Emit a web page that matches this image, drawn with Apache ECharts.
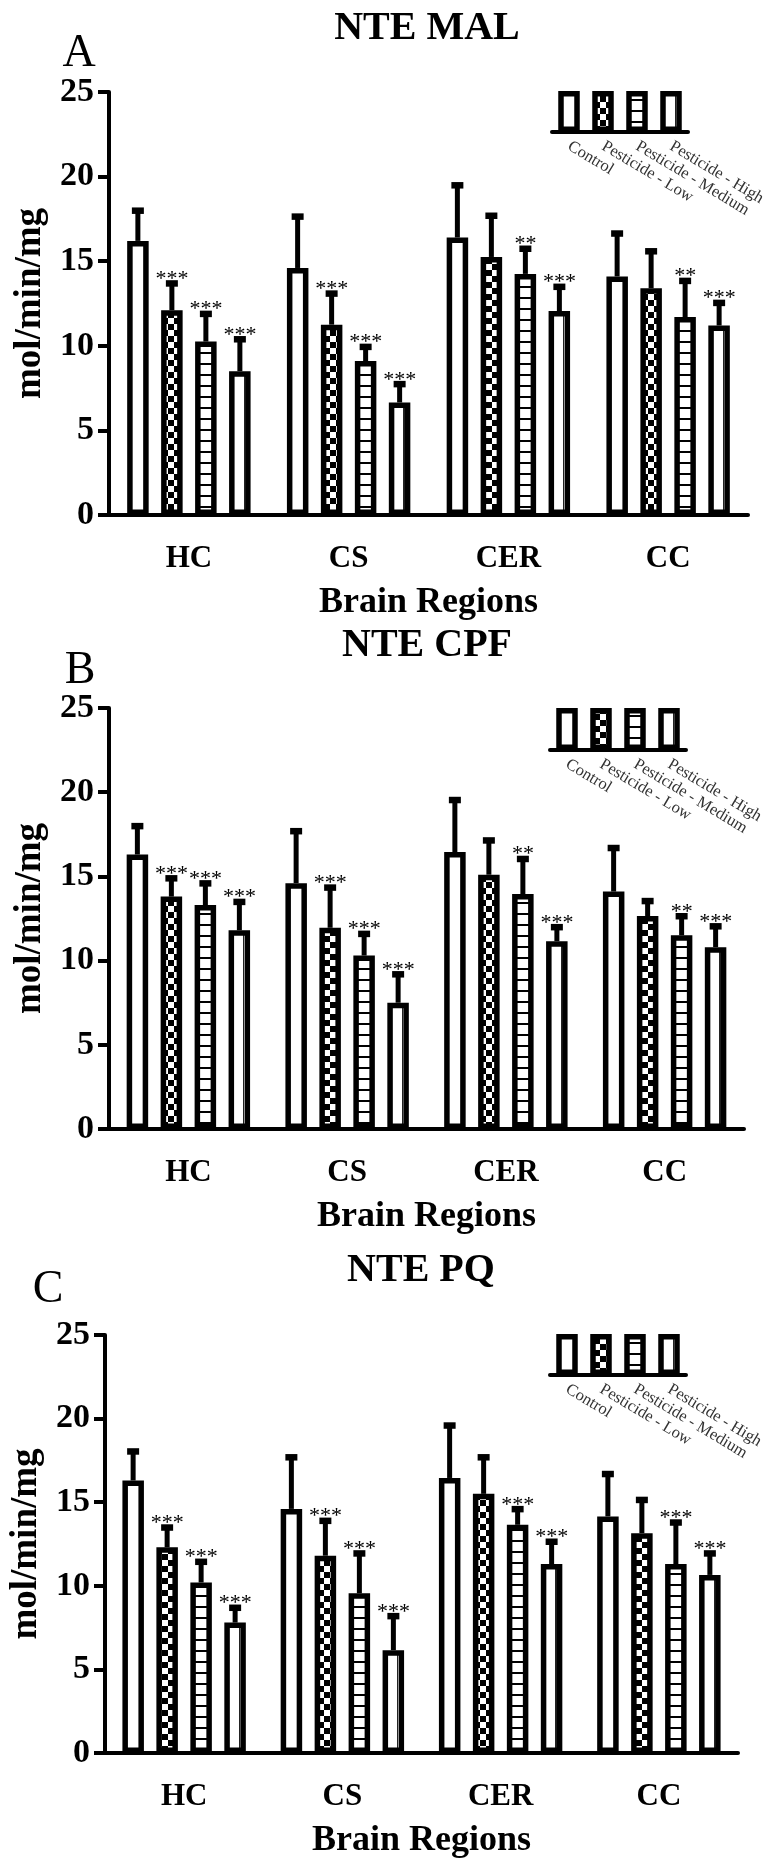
<!DOCTYPE html>
<html>
<head>
<meta charset="utf-8">
<script src="https://cdn.jsdelivr.net/npm/echarts@6.0.0/dist/echarts.min.js"></script>
<style>
html, body { margin: 0; padding: 0; background: #fff; }
#chart { width: 782px; height: 1862px; }
</style>
</head>
<body>
<div id="chart"></div>
<script>
// categories and groups
const categories = ['HC', 'CS', 'CER', 'CC'];
const groups = ['Control', 'Pesticide - Low', 'Pesticide - Medium', 'Pesticide - High'];

// NTE MAL : one row per group, one column per brain region
const malMean = [
  [16.2, 14.6, 16.4, 14.1],
  [12.1, 11.25, 15.25, 13.4],
  [10.25, 9.1, 14.25, 11.7],
  [8.5, 6.65, 12.05, 11.2]
];
const malTop = [
  [18.0, 17.65, 19.5, 16.65],
  [13.7, 13.1, 17.7, 15.6],
  [11.9, 9.95, 15.75, 13.85],
  [10.4, 7.75, 13.5, 12.55]
];
const malStars = [
  ['', '', '', ''],
  ['***', '***', '', ''],
  ['***', '***', '**', '**'],
  ['***', '***', '***', '***']
];

// NTE CPF
const cpfMean = [
  [16.3, 14.6, 16.45, 14.1],
  [13.8, 11.95, 15.1, 12.65],
  [13.3, 10.3, 13.95, 11.5],
  [11.8, 7.5, 11.15, 10.8]
];
const cpfTop = [
  [18.0, 17.7, 19.55, 16.7],
  [14.9, 14.35, 17.15, 13.55],
  [14.6, 11.6, 16.05, 12.65],
  [13.5, 9.2, 12.0, 12.05]
];
const cpfStars = [
  ['', '', '', ''],
  ['***', '***', '', ''],
  ['***', '***', '**', '**'],
  ['***', '***', '***', '***']
];

// NTE PQ
const pqMean = [
  [16.3, 14.6, 16.45, 14.15],
  [12.3, 11.8, 15.5, 13.15],
  [10.2, 9.55, 13.65, 11.3],
  [7.8, 6.15, 11.3, 10.65]
];
const pqTop = [
  [18.05, 17.7, 19.6, 16.7],
  [13.5, 13.9, 17.7, 15.15],
  [11.45, 11.95, 14.6, 13.8],
  [8.7, 8.2, 12.65, 11.95]
];
const pqStars = [
  ['', '', '', ''],
  ['***', '***', '', ''],
  ['***', '***', '***', '***'],
  ['***', '***', '***', '***']
];

const SERIF = '"Liberation Serif", "Times New Roman", serif';

const panels = [
  { title: 'NTE MAL', letter: 'A', mean: malMean, top: malTop, stars: malStars,
    grid: { left: 109, right: 34, top: 92, bottom: 1347 },
    legend: { left: 552, width: 136, top: 91, height: 41 },
    titlePos: [427, 29], letterPos: [79, 54] },
  { title: 'NTE CPF', letter: 'B', mean: cpfMean, top: cpfTop, stars: cpfStars,
    grid: { left: 109, right: 38, top: 708, bottom: 733 },
    legend: { left: 550, width: 136, top: 708, height: 42 },
    titlePos: [427, 646], letterPos: [80, 671] },
  { title: 'NTE PQ', letter: 'C', mean: pqMean, top: pqTop, stars: pqStars,
    grid: { left: 105, right: 44, top: 1335, bottom: 109 },
    legend: { left: 550, width: 136, top: 1334, height: 41 },
    titlePos: [421, 1271], letterPos: [48, 1290] }
];

// bar fills
function checker() {
  const c = document.createElement('canvas');
  c.width = 12; c.height = 12;
  const g = c.getContext('2d');
  g.fillStyle = '#fff'; g.fillRect(0, 0, 12, 12);
  g.fillStyle = '#000'; g.fillRect(0, 0, 6, 6); g.fillRect(6, 6, 6, 6);
  return c;
}
function stripes() {
  const c = document.createElement('canvas');
  c.width = 4; c.height = 11;
  const g = c.getContext('2d');
  g.fillStyle = '#fff'; g.fillRect(0, 0, 4, 11);
  g.fillStyle = '#000'; g.fillRect(0, 0, 4, 2);
  return c;
}
const fills = [
  '#fff',
  { image: checker(), repeat: 'repeat' },
  { image: stripes(), repeat: 'repeat' },
  { type: 'linear', x: 0, y: 0, x2: 1, y2: 0, colorStops: [
    { offset: 0, color: '#fff' }, { offset: 0.68, color: '#fff' },
    { offset: 0.68, color: '#222' }, { offset: 0.74, color: '#222' },
    { offset: 0.74, color: '#fff' }, { offset: 1, color: '#fff' }] }
];

// bar width includes the border (echarts draws it inside)
const BAR_W = 21.5, STEP = 34;

function errRender(gi, stars) {
  const off = (gi - 1.5) * STEP;
  return function (params, api) {
    const j = api.value(0);
    const a = api.coord([j, api.value(1)]);
    const b = api.coord([j, api.value(2)]);
    const x = a[0] + off;
    const kids = [
      { type: 'line', shape: { x1: x, y1: a[1], x2: x, y2: b[1] }, style: { stroke: '#000', lineWidth: 5 } },
      { type: 'rect', shape: { x: x - 6, y: b[1] - 3, width: 12, height: 6.5 }, style: { fill: '#000' } }
    ];
    const s = stars[params.dataIndex];
    if (s) {
      kids.push({ type: 'text', x: x, y: b[1] - 4,
        style: { text: s, font: '22px ' + SERIF, fill: '#000', textAlign: 'center', textVerticalAlign: 'middle' } });
    }
    return { type: 'group', children: kids };
  };
}

const grid = [], xAxis = [], yAxis = [], series = [], graphic = [];

panels.forEach((p, pi) => {
  const m = pi * 2, l = pi * 2 + 1;
  grid.push(p.grid, p.legend);

  xAxis.push({
    gridIndex: m, type: 'category', data: categories,
    axisLine: { lineStyle: { color: '#000', width: 4 } },
    axisTick: { alignWithLabel: true, length: 10, lineStyle: { color: '#000', width: 4 } },
    axisLabel: { color: '#000', fontSize: 31, fontWeight: 'bold', fontFamily: SERIF, margin: 28 },
    name: 'Brain Regions', nameLocation: 'middle', nameGap: 70,
    nameTextStyle: { color: '#000', fontSize: 36, fontWeight: 'bold', fontFamily: SERIF }
  });
  yAxis.push({
    gridIndex: m, type: 'value', min: 0, max: 25, interval: 5,
    axisLine: { show: true, lineStyle: { color: '#000', width: 4 } },
    axisTick: { show: true, length: 11, lineStyle: { color: '#000', width: 4 } },
    axisLabel: { color: '#000', fontSize: 34, fontWeight: 'bold', fontFamily: SERIF, margin: 15 },
    splitLine: { show: false },
    name: 'mol/min/mg', nameLocation: 'middle', nameGap: 60,
    nameTextStyle: { color: '#000', fontSize: 37, fontWeight: 'bold', fontFamily: SERIF }
  });

  xAxis.push({
    gridIndex: l, type: 'category', data: groups,
    axisLine: { lineStyle: { color: '#000', width: 4 } },
    axisTick: { alignWithLabel: true, length: 11, lineStyle: { color: '#555', width: 1.5 } },
    axisLabel: { interval: 0, rotate: -31, color: '#333', fontSize: 16.5, fontFamily: SERIF, margin: 13 }
  });
  yAxis.push({ gridIndex: l, type: 'value', min: 0, max: 1, show: false });

  groups.forEach((g, gi) => {
    series.push({
      type: 'bar', name: g, xAxisIndex: m, yAxisIndex: m,
      data: p.mean[gi], barWidth: BAR_W, barGap: '58%',
      itemStyle: { color: fills[gi], borderColor: '#000', borderWidth: 5.5 },
      silent: true
    });
  });
  groups.forEach((g, gi) => {
    series.push({
      type: 'custom', xAxisIndex: m, yAxisIndex: m, z: 5, silent: true,
      data: p.mean[gi].map((v, j) => [j, v, p.top[gi][j]]),
      renderItem: errRender(gi, p.stars[gi])
    });
  });
  series.push({
    type: 'bar', xAxisIndex: l, yAxisIndex: l, barWidth: BAR_W, silent: true,
    data: groups.map((g, gi) => ({ value: 1, itemStyle: { color: fills[gi] } })),
    itemStyle: { borderColor: '#000', borderWidth: 5.5 }
  });

  graphic.push({ type: 'text', x: p.titlePos[0], y: p.titlePos[1],
    style: { text: p.title, font: 'bold 40px ' + SERIF, fill: '#000', textAlign: 'center', textVerticalAlign: 'middle' } });
  graphic.push({ type: 'text', x: p.letterPos[0], y: p.letterPos[1],
    style: { text: p.letter, font: '46px ' + SERIF, fill: '#000', textAlign: 'center', textVerticalAlign: 'middle' } });
});

const chart = echarts.init(document.getElementById('chart'));
chart.setOption({
  backgroundColor: '#fff',
  animation: false,
  grid, xAxis, yAxis, series, graphic
});
</script>
</body>
</html>
